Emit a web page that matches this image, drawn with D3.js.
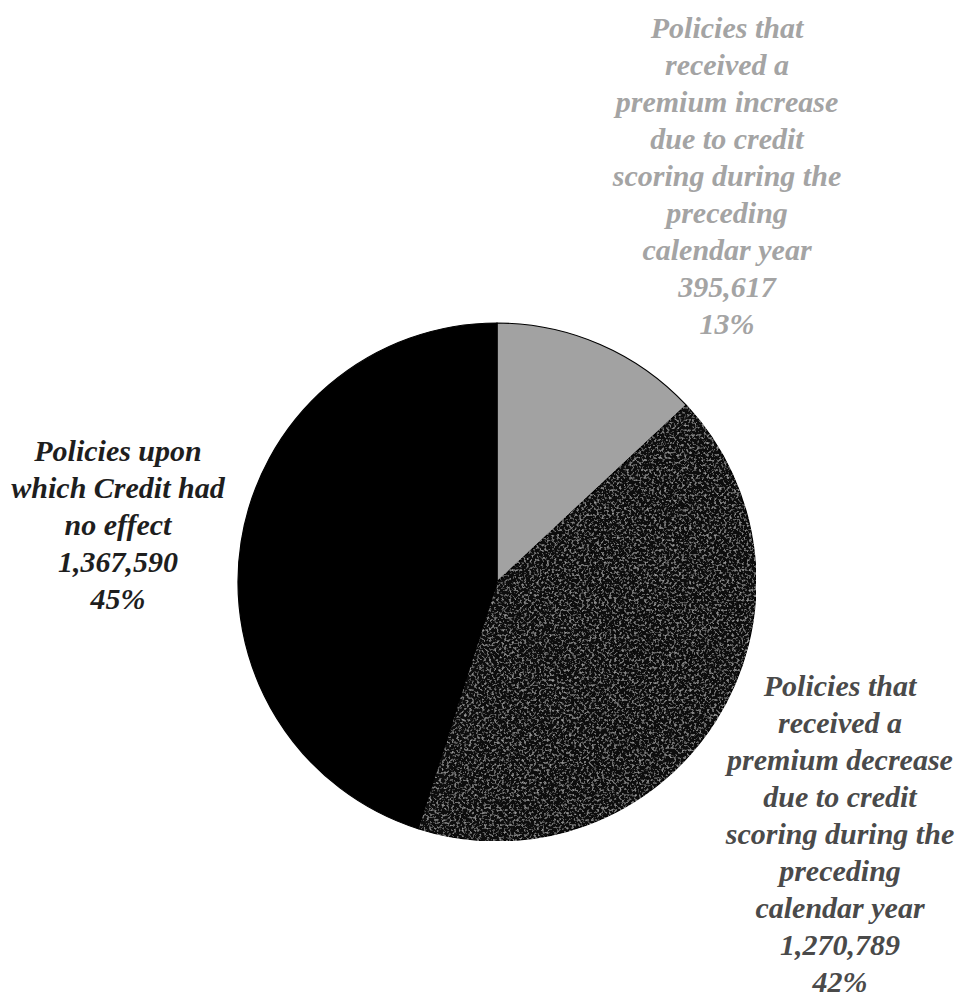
<!DOCTYPE html>
<html>
<head>
<meta charset="utf-8">
<script src="https://cdn.jsdelivr.net/npm/d3@7"></script>
<style>
  html, body { margin: 0; padding: 0; background: #fff; }
  svg { display: block; }
  .lbl { font-family: "Liberation Serif", "Tinos", "Times New Roman", serif; font-weight: bold; font-style: italic; }
</style>
</head>
<body>
<svg id="chart" width="955" height="996"></svg>
<script>
// ---- data ----
const categories = [
  "Policies that received a premium increase due to credit scoring during the preceding calendar year",
  "Policies that received a premium decrease due to credit scoring during the preceding calendar year",
  "Policies upon which Credit had no effect"
];
const values = [395617, 1270789, 1367590];
const percentLabels = ["13%", "42%", "45%"];
const labelLines = [
  ["Policies that", "received a", "premium increase", "due to credit", "scoring during the", "preceding", "calendar year"],
  ["Policies that", "received a", "premium decrease", "due to credit", "scoring during the", "preceding", "calendar year"],
  ["Policies upon", "which Credit had", "no effect"]
];

// ---- layout / style ----
const W = 955, H = 996;
const cx = 497, cy = 582, R = 259;
const sliceFills = ["#a2a2a2", "#101010", "#000000"];
const textColors = ["#a4a4a4", "#4a4a4a", "#1e1e1e"];
const labelAnchors = [ {x: 727, y: 27}, {x: 840, y: 685}, {x: 118, y: 450} ];
const lineH = 37;
const fontSize = 30;

const svg = d3.select("#chart");
const defs = svg.append("defs");

// speckle texture for the dark slice
const f = defs.append("filter").attr("id", "speckle")
  .attr("x", 0).attr("y", 0).attr("width", 1).attr("height", 1);
f.append("feTurbulence").attr("type", "fractalNoise").attr("baseFrequency", 0.4)
  .attr("numOctaves", 3).attr("seed", 7).attr("result", "n");
f.append("feColorMatrix").attr("in", "n").attr("type", "matrix")
  .attr("values", "0 0 0 0 0.33  0 0 0 0 0.33  0 0 0 0 0.33  3.0 0 0 0 -1.55")
  .attr("result", "s");
f.append("feComposite").attr("in", "s").attr("in2", "SourceGraphic").attr("operator", "in").attr("result", "c");
const m = f.append("feMerge");
m.append("feMergeNode").attr("in", "SourceGraphic");
m.append("feMergeNode").attr("in", "c");

const pie = d3.pie().sort(null).value(d => d)(values);
const arc = d3.arc().innerRadius(0).outerRadius(R);

const g = svg.append("g").attr("transform", `translate(${cx},${cy})`);
g.selectAll("path.slice").data(pie).join("path")
  .attr("class", "slice")
  .attr("d", arc)
  .attr("fill", (d, i) => sliceFills[i])
  .attr("stroke", "#000")
  .attr("stroke-width", 1.2)
  .attr("filter", (d, i) => i === 1 ? "url(#speckle)" : null);

// labels
const fmt = d3.format(",");
labelLines.forEach((lines, i) => {
  const all = lines.concat([fmt(values[i]), percentLabels[i]]);
  const t = svg.append("text")
    .attr("class", "lbl")
    .attr("text-anchor", "middle")
    .attr("font-size", fontSize)
    .attr("fill", textColors[i]);
  all.forEach((ln, k) => {
    t.append("tspan")
      .attr("x", labelAnchors[i].x)
      .attr("y", labelAnchors[i].y + k * lineH)
      .attr("dy", "0.35em")
      .text(ln);
  });
});
</script>
</body>
</html>
